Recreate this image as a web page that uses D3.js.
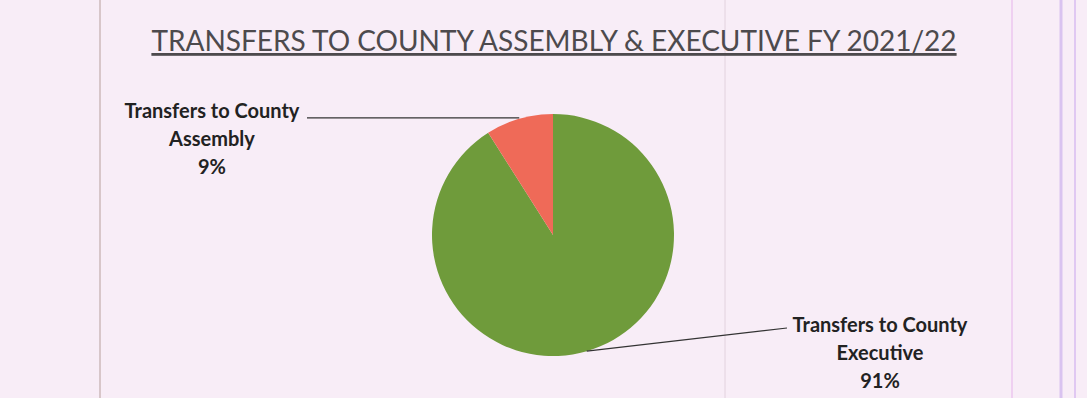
<!DOCTYPE html>
<html lang="en">
<head>
    <meta charset="UTF-8">
    <title>Transfers to County Assembly & Executive FY 2021/22</title>
    <script src="https://d3js.org/d3.v7.min.js"></script>
    <style>
        body { margin: 0; background: #f8edf7; }
        svg { display: block; }
        .title { font-family: Lato, "Open Sans", sans-serif; font-size: 28px; fill: #4d4a4d; text-decoration: underline; }
        .lbl { font-family: Lato, "Open Sans", sans-serif; font-size: 20px; font-weight: bold; fill: #222; }
        .leader { stroke: #333; stroke-width: 1.2px; fill: none; }
    </style>
</head>
<body>
    <svg id="chart" width="1087" height="398"></svg>
    <script>
        // data
        const categories = ["Transfers to County Executive", "Transfers to County Assembly"];
        const shares = [91, 9];
        const labelLines = [["Transfers to County", "Executive", "91%"], ["Transfers to County", "Assembly", "9%"]];
        const colors = ["#6f9b3b", "#ef6a58"];

        const width = 1087, height = 398;
        const svg = d3.select("#chart");

        // scan-like page lines
        const pageLines = [
            { x: 100, c: "#b79f9c", w: 1 },
            { x: 725, c: "#e2d2de", w: 1 },
            { x: 1012, c: "#ecc6ef", w: 1.5 },
            { x: 1061, c: "#d9c3f0", w: 3 },
            { x: 1075, c: "#e0c8f2", w: 2 }
        ];
        svg.selectAll(".pl").data(pageLines).enter().append("line")
            .attr("x1", d => d.x).attr("x2", d => d.x)
            .attr("y1", 0).attr("y2", height)
            .attr("stroke", d => d.c).attr("stroke-width", d => d.w);

        svg.append("text").attr("class", "title")
            .attr("x", 554).attr("y", 51)
            .attr("text-anchor", "middle")
            .text("TRANSFERS TO COUNTY ASSEMBLY & EXECUTIVE FY 2021/22");

        const cx = 553, cy = 235, r = 121;
        const g = svg.append("g").attr("transform", `translate(${cx},${cy})`);

        const data = categories.map((c, i) => ({ name: c, value: shares[i], lines: labelLines[i], color: colors[i] }));
        const pie = d3.pie().sort(null).value(d => d.value);
        const arc = d3.arc().innerRadius(0).outerRadius(r);
        const arcs = pie(data);

        g.selectAll("path").data(arcs).enter().append("path")
            .attr("d", arc)
            .attr("fill", d => d.data.color);

        // label anchors (relative to pie centre)
        const labelPos = [
            { x: 327, y: 97, lineEnd: 234, lineY: 93 },
            { x: -341, y: -117, lineEnd: -246, lineY: null }
        ];

        arcs.forEach((d, i) => {
            const mid = (d.startAngle + d.endAngle) / 2;
            const px = Math.sin(mid) * r, py = -Math.cos(mid) * r;
            const p = labelPos[i];
            const ly = p.lineY === null ? py - 1 : p.lineY;
            g.append("polyline").attr("class", "leader")
                .attr("points", `${px},${py - (p.lineY === null ? 1 : 0)} ${p.lineEnd},${ly}`);
            const t = g.append("text").attr("class", "lbl")
                .attr("text-anchor", "middle");
            d.data.lines.forEach((ln, k) => {
                t.append("tspan").attr("x", p.x).attr("y", p.y + k * 28).text(ln);
            });
        });
    </script>
</body>
</html>
